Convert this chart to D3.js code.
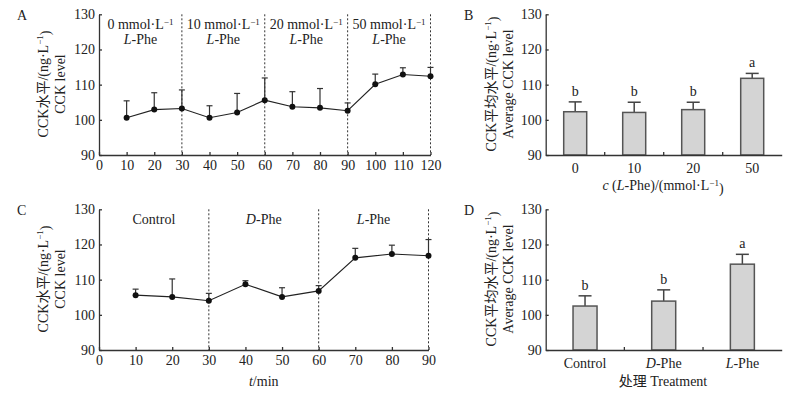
<!DOCTYPE html>
<html>
<head>
<meta charset="utf-8">
<script src="https://cdn.jsdelivr.net/npm/d3@7"></script>
<style>
  body { margin: 0; background: #fff; }
  svg text { font-family: "Liberation Serif", "Noto Sans CJK SC", serif; fill: #222; }
  .axis path, .axis line { stroke: #333; stroke-width: 1.3; }
  .axis text { font-size: 14px; }
</style>
</head>
<body>
<div id="chart"></div>
<script>
// ---- data ----
var timeA = [10, 20, 30, 40, 50, 60, 70, 80, 90, 100, 110, 120];
var meanA = [100.6, 102.9, 103.2, 100.6, 102.1, 105.6, 103.7, 103.4, 102.6, 110.1, 112.9, 112.4];
var errA  = [105.4, 107.7, 108.5, 104.0, 107.5, 111.9, 108.0, 108.9, 104.8, 113.0, 114.8, 114.9];
var sectionsA = ["0 mmol·L", "10 mmol·L", "20 mmol·L", "50 mmol·L"];

var catsB = ["0", "10", "20", "50"];
var meanB = [102.3, 102.1, 102.9, 111.8];
var errB  = [105.1, 105.0, 105.0, 113.2];
var letterB = ["b", "b", "b", "a"];

var timeC = [10, 20, 30, 40, 50, 60, 70, 80, 90];
var meanC = [105.6, 105.1, 104.0, 108.7, 105.1, 106.8, 116.2, 117.3, 116.8];
var errC  = [107.3, 110.2, 106.1, 109.7, 107.7, 108.3, 118.9, 119.8, 121.4];
var sectionsC = ["Control", "D", "L"];

var catsD = ["Control", "D-Phe", "L-Phe"];
var meanD = [102.5, 103.9, 114.4];
var errD  = [105.4, 107.1, 117.2];
var letterD = ["b", "b", "a"];

var yTicks = [90, 100, 110, 120, 130];

var svg = d3.select("#chart").append("svg")
    .attr("width", 800)
    .attr("height", 393);

// y label with two rotated lines
function yLabel(g, x1, x2, cy, line1, line2) {
    var t1 = g.append("text")
        .attr("transform", "translate(" + x1 + "," + cy + ") rotate(-90)")
        .attr("text-anchor", "middle")
        .attr("dy", "0.35em")
        .style("font-size", "14px");
    t1.append("tspan").text(line1);
    t1.append("tspan").text("−1").attr("dy", "-0.5em").style("font-size", "9px");
    t1.append("tspan").text(")").attr("dy", "0.5em");
    svg.append("text")
        .attr("transform", "translate(" + x2 + "," + cy + ") rotate(-90)")
        .attr("text-anchor", "middle")
        .attr("dy", "0.35em")
        .style("font-size", "14px")
        .text(line2);
}

function panelLetter(x, y, s) {
    svg.append("text").attr("x", x).attr("y", y).style("font-size", "14px").text(s);
}

function yAxis(y, left) {
    svg.append("g")
        .attr("class", "axis")
        .attr("transform", "translate(" + left + ",0)")
        .call(d3.axisLeft(y).tickValues(yTicks).tickSizeInner(-3).tickSizeOuter(0).tickPadding(4));
}

// ---- line panels (A, C) ----
function linePanel(opt) {
    var x = d3.scaleLinear().domain([0, opt.xmax]).range([opt.left, opt.right]);
    var y = d3.scaleLinear().domain([90, 130]).range([opt.bottom, opt.top]);

    // dashed separators
    opt.seps.forEach(function(s) {
        svg.append("line")
            .attr("x1", x(s)).attr("x2", x(s))
            .attr("y1", y(130)).attr("y2", y(90))
            .attr("stroke", "#333").attr("stroke-width", 1)
            .attr("stroke-dasharray", "2,2");
    });

    svg.append("g")
        .attr("class", "axis")
        .attr("transform", "translate(0," + opt.bottom + ")")
        .call(d3.axisBottom(x).ticks(opt.xmax / 10).tickSizeInner(-3).tickSizeOuter(0).tickPadding(5));
    yAxis(y, opt.left);

    // error bars (upper only)
    opt.t.forEach(function(t, i) {
        svg.append("line")
            .attr("x1", x(t)).attr("x2", x(t))
            .attr("y1", y(opt.mean[i])).attr("y2", y(opt.err[i]))
            .attr("stroke", "#333").attr("stroke-width", 1.2);
        svg.append("line")
            .attr("x1", x(t) - 3).attr("x2", x(t) + 3)
            .attr("y1", y(opt.err[i])).attr("y2", y(opt.err[i]))
            .attr("stroke", "#333").attr("stroke-width", 1.2);
    });

    var line = d3.line()
        .x(function(d) { return x(d[0]); })
        .y(function(d) { return y(d[1]); });
    var pts = opt.t.map(function(t, i) { return [t, opt.mean[i]]; });
    svg.append("path")
        .datum(pts)
        .attr("d", line)
        .attr("fill", "none")
        .attr("stroke", "#222")
        .attr("stroke-width", 1.1);
    svg.selectAll(null)
        .data(pts)
        .enter().append("circle")
        .attr("cx", function(d) { return x(d[0]); })
        .attr("cy", function(d) { return y(d[1]); })
        .attr("r", 3)
        .attr("fill", "#111");

    return { x: x, y: y };
}

// Panel A
var A = linePanel({
    xmax: 120, left: 99, right: 430.5, top: 14.3, bottom: 155,
    seps: [30, 60, 90, 120], t: timeA, mean: meanA, err: errA
});
sectionsA.forEach(function(s, i) {
    var cx = A.x(i * 30 + 15);
    var t = svg.append("text").attr("x", cx).attr("y", 29)
        .attr("text-anchor", "middle").style("font-size", "14px");
    t.append("tspan").text(s);
    t.append("tspan").text("−1").attr("dy", "-0.5em").style("font-size", "9px");
    var t2 = svg.append("text").attr("x", cx).attr("y", 44)
        .attr("text-anchor", "middle").style("font-size", "14px");
    t2.append("tspan").text("L").style("font-style", "italic");
    t2.append("tspan").text("-Phe");
});
panelLetter(17, 20, "A");
yLabel(svg, 43, 60, 84, "CCK水平/(ng·L", "CCK level");

// Panel C
var C = linePanel({
    xmax: 90, left: 99, right: 428.5, top: 209.3, bottom: 350,
    seps: [30, 60, 90], t: timeC, mean: meanC, err: errC
});
sectionsC.forEach(function(s, i) {
    var t = svg.append("text").attr("x", C.x(i * 30 + 15)).attr("y", 224)
        .attr("text-anchor", "middle").style("font-size", "14px");
    if (s === "Control") {
        t.text(s);
    } else {
        t.append("tspan").text(s).style("font-style", "italic");
        t.append("tspan").text("-Phe");
    }
});
panelLetter(17, 215, "C");
yLabel(svg, 43, 60, 279, "CCK水平/(ng·L", "CCK level");
var tl = svg.append("text").attr("x", C.x(45)).attr("y", 386)
    .attr("text-anchor", "middle").style("font-size", "14px");
tl.append("tspan").text("t").style("font-style", "italic");
tl.append("tspan").text("/min");

// ---- bar panels (B, D) ----
function barPanel(opt) {
    var x = d3.scaleBand().domain(opt.cats).range([opt.left, opt.right]);
    var y = d3.scaleLinear().domain([90, 130]).range([opt.bottom, opt.top]);
    var bw = opt.barWidth;

    // error bars
    opt.cats.forEach(function(c, i) {
        var cx = x(c) + x.bandwidth() / 2;
        svg.append("line")
            .attr("x1", cx).attr("x2", cx)
            .attr("y1", y(opt.mean[i])).attr("y2", y(opt.err[i]))
            .attr("stroke", "#444").attr("stroke-width", 1.5);
        svg.append("line")
            .attr("x1", cx - 6.5).attr("x2", cx + 6.5)
            .attr("y1", y(opt.err[i])).attr("y2", y(opt.err[i]))
            .attr("stroke", "#444").attr("stroke-width", 1.5);
        svg.append("text")
            .attr("x", cx).attr("y", y(opt.err[i]) - 6)
            .attr("text-anchor", "middle")
            .style("font-size", "14px")
            .text(opt.letters[i]);
    });

    svg.selectAll(null)
        .data(opt.cats)
        .enter().append("rect")
        .attr("x", function(d) { return x(d) + x.bandwidth() / 2 - bw / 2; })
        .attr("y", function(d, i) { return y(opt.mean[i]); })
        .attr("width", bw)
        .attr("height", function(d, i) { return y(90) - y(opt.mean[i]); })
        .attr("fill", "#d4d4d4")
        .attr("stroke", "#555")
        .attr("stroke-width", 1.5);

    var xa = svg.append("g")
        .attr("class", "axis")
        .attr("transform", "translate(0," + opt.bottom + ")")
        .call(d3.axisBottom(x).tickSize(0).tickPadding(8));
    // inner ticks at band boundaries
    opt.cats.slice(1).forEach(function(c) {
        xa.append("line")
            .attr("x1", x(c)).attr("x2", x(c))
            .attr("y1", 0).attr("y2", -3)
            .attr("stroke", "#333").attr("stroke-width", 1.3);
    });
    yAxis(y, opt.left);
    return { x: x, y: y, axis: xa };
}

var B = barPanel({
    cats: catsB, mean: meanB, err: errB, letters: letterB,
    left: 545.7, right: 781.7, top: 14.3, bottom: 155, barWidth: 23
});
panelLetter(464, 20, "B");
yLabel(svg, 491, 508, 84, "CCK平均水平/(ng·L", "Average CCK level");
var xl = svg.append("text").attr("x", 663).attr("y", 190)
    .attr("text-anchor", "middle").style("font-size", "14px");
xl.append("tspan").text("c").style("font-style", "italic");
xl.append("tspan").text(" (");
xl.append("tspan").text("L").style("font-style", "italic");
xl.append("tspan").text("-Phe)/(mmol·L");
xl.append("tspan").text("−1").attr("dy", "-0.5em").style("font-size", "9px");
xl.append("tspan").text(")").attr("dy", "0.5em");

var D = barPanel({
    cats: catsD, mean: meanD, err: errD, letters: letterD,
    left: 545.7, right: 781.7, top: 209.3, bottom: 350, barWidth: 24
});
// italic D / L in tick labels
D.axis.selectAll(".tick text").each(function(d) {
    if (d === "Control") return;
    var t = d3.select(this);
    var parts = d.split("-");
    t.text(null);
    t.append("tspan").text(parts[0]).style("font-style", "italic");
    t.append("tspan").text("-" + parts[1]);
});
panelLetter(464, 215, "D");
yLabel(svg, 491, 508, 279, "CCK平均水平/(ng·L", "Average CCK level");
svg.append("text").attr("x", 663).attr("y", 386)
    .attr("text-anchor", "middle").style("font-size", "14px")
    .text("处理 Treatment");
</script>
</body>
</html>
